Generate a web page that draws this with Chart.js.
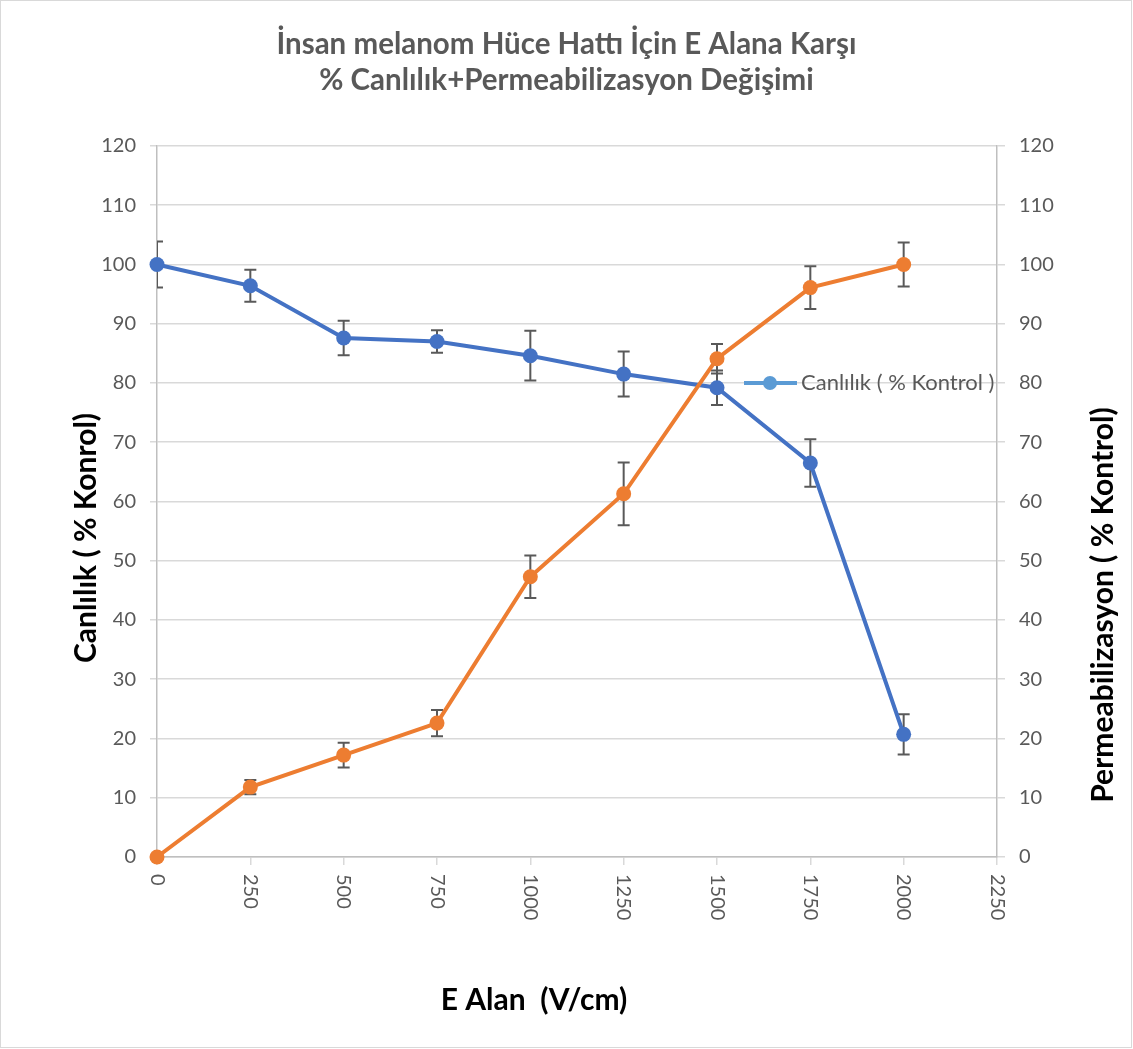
<!DOCTYPE html>
<html>
<head>
<meta charset="utf-8">
<script src="https://cdn.jsdelivr.net/npm/chart.js@4.4.1/dist/chart.umd.min.js"></script>
<style>
  html, body { margin: 0; padding: 0; background: #fff; }
  #wrap { width: 1133px; height: 1049px; }
</style>
</head>
<body>
<div id="wrap"><canvas id="grafik"></canvas></div>
<script>
// Veriler
const eAlan = [0, 250, 500, 750, 1000, 1250, 1500, 1750, 2000];
const canlilik = [100, 96.4, 87.6, 87.0, 84.6, 81.5, 79.2, 66.5, 20.7];
const canlilikHata = [3.9, 2.7, 2.9, 1.9, 4.2, 3.8, 2.9, 4.0, 3.4];
const permeabilizasyon = [0, 11.8, 17.2, 22.6, 47.3, 61.3, 84.1, 96.1, 100];
const permHata = [0, 1.2, 2.1, 2.2, 3.6, 5.3, 2.5, 3.6, 3.7];
const xTickLabels = ['0', '250', '500', '750', '1000', '1250', '1500', '1750', '2000', '2250'];

const FONT = 'Lato, "Open Sans", sans-serif';
const GRI = '#595959';

function noktalar(ys) {
    return eAlan.map(function(x, i) { return { x: x, y: ys[i] }; });
}

// Hata çubukları
const hataCubugu = {
    id: 'hataCubugu',
    beforeDatasetsDraw(chart) {
        const ctx = chart.ctx;
        const a = chart.chartArea;
        const setler = [[0, canlilik, canlilikHata, 'y'], [1, permeabilizasyon, permHata, 'y2']];
        ctx.save();
        ctx.beginPath();
        ctx.rect(a.left, a.top, a.right - a.left, a.bottom - a.top);
        ctx.clip();
        ctx.strokeStyle = GRI;
        ctx.lineWidth = 2;
        setler.forEach(function(s) {
            const ys = chart.scales[s[3]];
            eAlan.forEach(function(x, i) {
                const h = s[2][i];
                if (!h) return;
                const px = chart.scales.x.getPixelForValue(x);
                const ust = ys.getPixelForValue(s[1][i] + h);
                const alt = ys.getPixelForValue(s[1][i] - h);
                ctx.beginPath();
                ctx.moveTo(px, ust); ctx.lineTo(px, alt);
                ctx.moveTo(px - 6, ust); ctx.lineTo(px + 6, ust);
                ctx.moveTo(px - 6, alt); ctx.lineTo(px + 6, alt);
                ctx.stroke();
            });
        });
        ctx.restore();
    }
};

// Döndürülmüş x etiketleri, eksen başlıkları, lejant, çerçeve
const yazilar = {
    id: 'yazilar',
    afterDraw(chart) {
        const ctx = chart.ctx;
        const x = chart.scales.x;
        ctx.save();
        ctx.fillStyle = GRI;
        ctx.font = '20px ' + FONT;
        ctx.textBaseline = 'middle';
        ctx.textAlign = 'left';
        xTickLabels.forEach(function(t) {
            const px = x.getPixelForValue(Number(t));
            ctx.save();
            ctx.translate(px, x.top + 17);
            ctx.rotate(Math.PI / 2);
            ctx.fillText(t, 0, 0);
            ctx.restore();
        });

        ctx.fillStyle = '#000';
        ctx.font = 'bold 30px ' + FONT;
        ctx.textAlign = 'center';
        ctx.fillText('E Alan  (V/cm)', 534, 1000);

        ctx.save();
        ctx.translate(86, 538);
        ctx.rotate(-Math.PI / 2);
        ctx.fillText('Canlılık ( % Konrol)', 0, 0);
        ctx.restore();

        ctx.save();
        ctx.translate(1103, 605);
        ctx.rotate(-Math.PI / 2);
        ctx.fillText('Permeabilizasyon ( % Kontrol)', 0, 0);
        ctx.restore();

        // lejant
        const ly = chart.scales.y.getPixelForValue(80);
        ctx.strokeStyle = '#5B9BD5';
        ctx.lineWidth = 4;
        ctx.beginPath();
        ctx.moveTo(744, ly); ctx.lineTo(797, ly);
        ctx.stroke();
        ctx.fillStyle = '#5B9BD5';
        ctx.beginPath();
        ctx.arc(770, ly, 7, 0, Math.PI * 2);
        ctx.fill();
        ctx.fillStyle = GRI;
        ctx.font = '22px ' + FONT;
        ctx.textAlign = 'left';
        ctx.fillText('Canlılık ( % Kontrol )', 801, ly);

        ctx.strokeStyle = '#D9D9D9';
        ctx.lineWidth = 1;
        ctx.strokeRect(0.5, 0.5, chart.width - 2, chart.height - 2);
        ctx.restore();
    }
};

const ctx = document.getElementById('grafik').getContext('2d');
new Chart(ctx, {
    type: 'line',
    data: {
        datasets: [{
            label: 'Canlılık ( % Kontrol )',
            data: noktalar(canlilik),
            yAxisID: 'y',
            borderColor: '#4472C4',
            backgroundColor: '#4472C4',
            borderWidth: 4,
            pointRadius: 7.5,
            pointBorderWidth: 0,
            tension: 0,
            clip: false,
            order: 2
        }, {
            label: 'Permeabilizasyon ( % Kontrol )',
            data: noktalar(permeabilizasyon),
            yAxisID: 'y2',
            borderColor: '#ED7D31',
            backgroundColor: '#ED7D31',
            borderWidth: 4,
            pointRadius: 7.5,
            pointBorderWidth: 0,
            tension: 0,
            clip: false,
            order: 1
        }]
    },
    options: {
        responsive: true,
        maintainAspectRatio: false,
        animation: false,
        layout: { padding: 0 },
        plugins: {
            legend: { display: false },
            tooltip: { enabled: false },
            title: {
                display: true,
                text: ['İnsan melanom Hüce Hattı İçin E Alana Karşı', '% Canlılık+Permeabilizasyon Değişimi'],
                color: GRI,
                font: { family: FONT, size: 29.5, weight: 'bold', lineHeight: 1.22 },
                padding: { top: 26, bottom: 48 }
            }
        },
        scales: {
            x: {
                type: 'linear',
                min: 0,
                max: 2250,
                ticks: { display: false, stepSize: 250 },
                grid: { drawOnChartArea: false, color: '#D9D9D9', tickLength: 8, lineWidth: 1.5 },
                border: { color: '#BFBFBF', width: 1.5 },
                afterFit: function(s) { s.height = 192; }
            },
            y: {
                position: 'left',
                min: 0,
                max: 120,
                ticks: { stepSize: 10, color: GRI, padding: 14, font: { family: FONT, size: 20 } },
                grid: { color: '#D9D9D9', tickLength: 7, lineWidth: 1.5 },
                border: { color: '#BFBFBF', width: 1.5 },
                afterFit: function(s) { s.width = 157; }
            },
            y2: {
                position: 'right',
                min: 0,
                max: 120,
                ticks: { stepSize: 10, color: GRI, padding: 14, font: { family: FONT, size: 20 } },
                grid: { drawOnChartArea: false, color: '#D9D9D9', tickLength: 8, lineWidth: 1.5 },
                border: { color: '#BFBFBF', width: 1.5 },
                afterFit: function(s) { s.width = 136; }
            }
        }
    },
    plugins: [hataCubugu, yazilar]
});
</script>
</body>
</html>
